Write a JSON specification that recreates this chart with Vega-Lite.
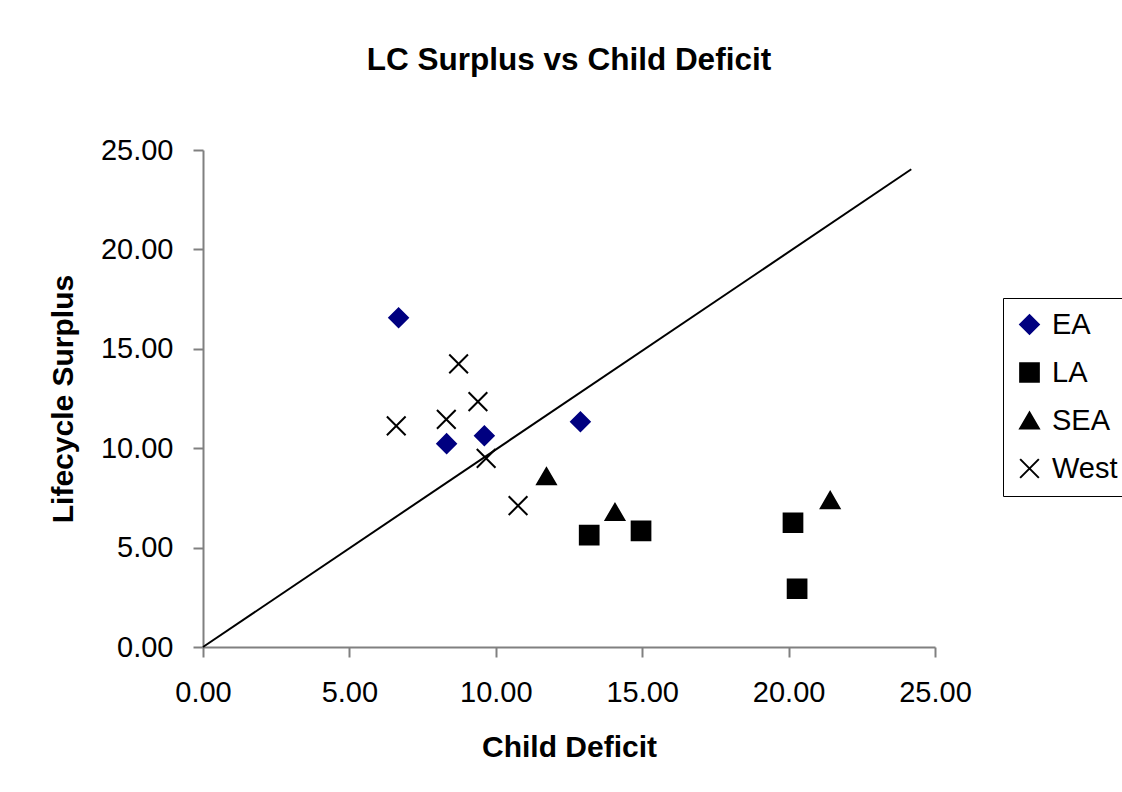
{
  "$schema": "https://vega.github.io/schema/vega-lite/v6.json",
  "width": 732,
  "height": 497,
  "autosize": {"type": "none"},
  "padding": {"left": 203, "top": 150, "right": 187, "bottom": 145},
  "background": "white",
  "config": {
    "font": "Liberation Sans",
    "view": {"stroke": null}
  },
  "title": {
    "text": "LC Surplus vs Child Deficit",
    "font": "Liberation Sans",
    "fontSize": 31.5,
    "fontWeight": "bold",
    "color": "black",
    "anchor": "middle",
    "frame": "group",
    "baseline": "alphabetic",
    "offset": 35
  },
  "datasets": {
    "diag": [
      {"deficit": 0, "surplus": 0},
      {"deficit": 24.19, "surplus": 24.03}
    ],
    "pts": [
      {"series": "EA", "deficit": 6.68, "surplus": 16.56},
      {"series": "EA", "deficit": 8.32, "surplus": 10.23},
      {"series": "EA", "deficit": 9.61, "surplus": 10.63},
      {"series": "EA", "deficit": 12.89, "surplus": 11.33},
      {"series": "LA", "deficit": 13.19, "surplus": 5.63},
      {"series": "LA", "deficit": 14.96, "surplus": 5.84},
      {"series": "LA", "deficit": 20.15, "surplus": 6.25},
      {"series": "LA", "deficit": 20.29, "surplus": 2.93},
      {"series": "SEA", "deficit": 11.73, "surplus": 8.59},
      {"series": "SEA", "deficit": 14.07, "surplus": 6.79},
      {"series": "SEA", "deficit": 21.42, "surplus": 7.39},
      {"series": "West", "deficit": 6.6, "surplus": 11.12},
      {"series": "West", "deficit": 8.31, "surplus": 11.45},
      {"series": "West", "deficit": 8.73, "surplus": 14.24},
      {"series": "West", "deficit": 9.39, "surplus": 12.34},
      {"series": "West", "deficit": 9.67, "surplus": 9.49},
      {"series": "West", "deficit": 10.76, "surplus": 7.11}
    ]
  },
  "encoding": {
    "x": {
      "field": "deficit",
      "type": "quantitative",
      "scale": {"domain": [0, 25], "nice": false, "zero": false},
      "axis": {
        "title": "Child Deficit",
        "values": [0, 5, 10, 15, 20, 25],
        "format": ".2f",
        "grid": false,
        "domainColor": "#808080",
        "domainWidth": 2,
        "tickColor": "#808080",
        "tickWidth": 2,
        "tickSize": 10,
        "labelFont": "Liberation Sans",
        "labelFontSize": 29,
        "labelColor": "black",
        "labelPadding": 21,
        "labelFlush": false,
        "labelOverlap": false,
        "titleFont": "Liberation Sans",
        "titleFontSize": 30,
        "titleFontWeight": "bold",
        "titleColor": "black",
        "titleBaseline": "alphabetic",
        "titleY": 109,
        "titleX": 366
      }
    },
    "y": {
      "field": "surplus",
      "type": "quantitative",
      "scale": {"domain": [0, 25], "nice": false, "zero": false},
      "axis": {
        "title": "Lifecycle Surplus",
        "values": [0, 5, 10, 15, 20, 25],
        "format": ".2f",
        "grid": false,
        "domainColor": "#808080",
        "domainWidth": 2,
        "tickColor": "#808080",
        "tickWidth": 2,
        "tickSize": 10,
        "labelFont": "Liberation Sans",
        "labelFontSize": 29,
        "labelColor": "black",
        "labelPadding": 20,
        "labelFlush": false,
        "labelOverlap": false,
        "titleFont": "Liberation Sans",
        "titleFontSize": 30,
        "titleFontWeight": "bold",
        "titleColor": "black",
        "titleBaseline": "alphabetic",
        "titleAngle": -90,
        "titleX": -131,
        "titleY": 248.5
      }
    }
  },
  "layer": [
    {
      "data": {"name": "diag"},
      "mark": {"type": "line", "color": "black", "strokeWidth": 2}
    },
    {
      "data": {"name": "pts"},
      "mark": {"type": "point", "filled": true, "opacity": 1, "size": 350, "strokeWidth": 2},
      "encoding": {
        "color": {
          "field": "series",
          "type": "nominal",
          "scale": {"domain": ["EA", "LA", "SEA", "West"], "range": ["#000080", "#000000", "#000000", "#000000"]},
          "legend": {
            "title": null,
            "orient": "none",
            "legendX": 800,
            "legendY": 148,
            "strokeColor": "#000000",
            "fillColor": "white",
            "padding": 12,
            "labelFont": "Liberation Sans",
            "labelFontSize": 29,
            "labelColor": "black",
            "labelOffset": 8,
            "rowPadding": 18,
            "symbolSize": 350,
            "symbolStrokeWidth": 2,
            "encode": {
              "symbols": {
                "update": {
                  "stroke": {"scale": "color", "field": "value"},
                  "strokeWidth": {"value": 2}
                }
              }
            }
          }
        },
        "shape": {
          "field": "series",
          "type": "nominal",
          "scale": {"domain": ["EA", "LA", "SEA", "West"], "range": ["diamond", "square", "triangle-up", "M-1,-1L1,1M-1,1L1,-1"]}
        },
        "stroke": {
          "field": "series",
          "type": "nominal",
          "scale": {"domain": ["EA", "LA", "SEA", "West"], "range": ["#000080", "#000000", "#000000", "#000000"]},
          "legend": null
        }
      }
    }
  ]
}
